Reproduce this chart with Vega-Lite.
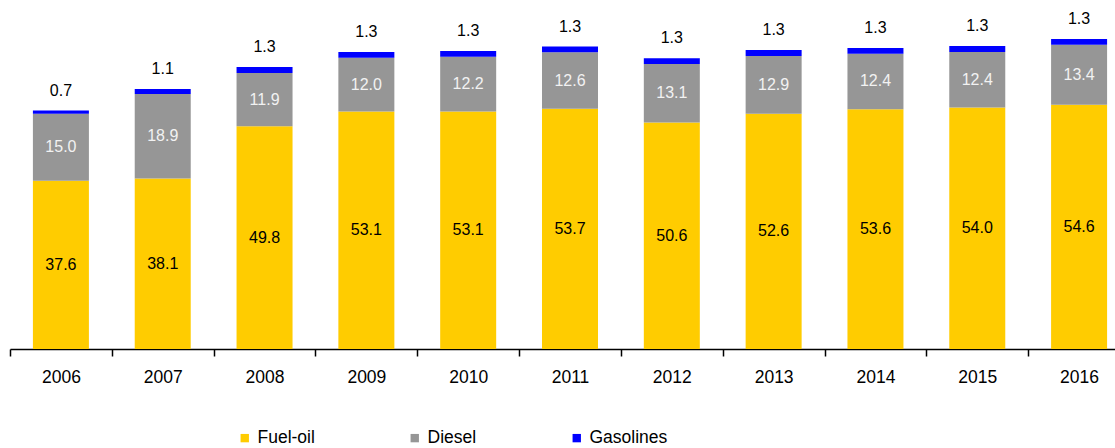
{
  "$schema": "https://vega.github.io/schema/vega-lite/v6.json",
  "autosize": "none",
  "width": 1120,
  "height": 349,
  "padding": {"left": 10, "top": 0, "right": 0, "bottom": 99},
  "background": "white",
  "config": {"view": {"stroke": null}, "font": "Liberation Sans"},
  "data": {"values": [
    {"year": "2006", "type": "Fuel-oil", "value": 37.6},
    {"year": "2006", "type": "Diesel", "value": 15.0},
    {"year": "2006", "type": "Gasolines", "value": 0.7},
    {"year": "2007", "type": "Fuel-oil", "value": 38.1},
    {"year": "2007", "type": "Diesel", "value": 18.9},
    {"year": "2007", "type": "Gasolines", "value": 1.1},
    {"year": "2008", "type": "Fuel-oil", "value": 49.8},
    {"year": "2008", "type": "Diesel", "value": 11.9},
    {"year": "2008", "type": "Gasolines", "value": 1.3},
    {"year": "2009", "type": "Fuel-oil", "value": 53.1},
    {"year": "2009", "type": "Diesel", "value": 12.0},
    {"year": "2009", "type": "Gasolines", "value": 1.3},
    {"year": "2010", "type": "Fuel-oil", "value": 53.1},
    {"year": "2010", "type": "Diesel", "value": 12.2},
    {"year": "2010", "type": "Gasolines", "value": 1.3},
    {"year": "2011", "type": "Fuel-oil", "value": 53.7},
    {"year": "2011", "type": "Diesel", "value": 12.6},
    {"year": "2011", "type": "Gasolines", "value": 1.3},
    {"year": "2012", "type": "Fuel-oil", "value": 50.6},
    {"year": "2012", "type": "Diesel", "value": 13.1},
    {"year": "2012", "type": "Gasolines", "value": 1.3},
    {"year": "2013", "type": "Fuel-oil", "value": 52.6},
    {"year": "2013", "type": "Diesel", "value": 12.9},
    {"year": "2013", "type": "Gasolines", "value": 1.3},
    {"year": "2014", "type": "Fuel-oil", "value": 53.6},
    {"year": "2014", "type": "Diesel", "value": 12.4},
    {"year": "2014", "type": "Gasolines", "value": 1.3},
    {"year": "2015", "type": "Fuel-oil", "value": 54.0},
    {"year": "2015", "type": "Diesel", "value": 12.4},
    {"year": "2015", "type": "Gasolines", "value": 1.3},
    {"year": "2016", "type": "Fuel-oil", "value": 54.6},
    {"year": "2016", "type": "Diesel", "value": 13.4},
    {"year": "2016", "type": "Gasolines", "value": 1.3}
  ]},
  "transform": [
    {"calculate": "indexof(['Fuel-oil','Diesel','Gasolines'], datum.type)", "as": "ord"},
    {"stack": "value", "groupby": ["year"], "sort": [{"field": "ord", "order": "ascending"}], "as": ["v0", "v1"]},
    {"calculate": "(datum.v0 + datum.v1) / 2", "as": "mid"}
  ],
  "encoding": {
    "x": {
      "field": "year", "type": "ordinal",
      "scale": {"paddingInner": 0, "paddingOuter": 0},
      "axis": {
        "title": null, "labelAngle": 0, "tickBand": "extent",
        "domainColor": "black", "domainWidth": 1.5, "tickColor": "black", "tickWidth": 1.5,
        "tickSize": 7, "labelPadding": 12, "labelFontSize": 17.5, "labelColor": "black",
        "labelFont": "Liberation Sans"
      }
    }
  },
  "layer": [
    {
      "mark": {"type": "bar", "width": {"band": 0.55}},
      "encoding": {
        "y": {"field": "v0", "type": "quantitative", "scale": {"domain": [0, 78], "nice": false, "zero": true}, "axis": null},
        "y2": {"field": "v1"},
        "color": {
          "field": "type", "type": "nominal",
          "scale": {"domain": ["Fuel-oil", "Diesel", "Gasolines"], "range": ["#FFCC00", "#969696", "#0000FF"]},
          "legend": {
            "title": null, "orient": "none", "direction": "horizontal", "columns": 3,
            "legendX": 226, "legendY": 429, "symbolType": "square", "symbolSize": 70,
            "symbolStrokeWidth": 0, "labelFontSize": 17.5, "labelColor": "black",
            "labelFont": "Liberation Sans", "columnPadding": 91, "labelOffset": 4, "padding": 0
          }
        }
      }
    },
    {
      "transform": [{"filter": "datum.type !== 'Gasolines'"}],
      "mark": {"type": "text", "fontSize": 16, "baseline": "middle", "font": "Liberation Sans"},
      "encoding": {
        "y": {"field": "mid", "type": "quantitative"},
        "text": {"field": "value", "type": "quantitative", "format": ".1f"},
        "color": {"condition": {"test": "datum.type === 'Diesel'", "value": "#F2F2F2"}, "value": "black"}
      }
    },
    {
      "transform": [{"filter": "datum.type === 'Gasolines'"}],
      "mark": {"type": "text", "fontSize": 16, "baseline": "middle", "dy": -20, "color": "black", "font": "Liberation Sans"},
      "encoding": {
        "y": {"field": "v1", "type": "quantitative"},
        "text": {"field": "value", "type": "quantitative", "format": ".1f"}
      }
    }
  ]
}
